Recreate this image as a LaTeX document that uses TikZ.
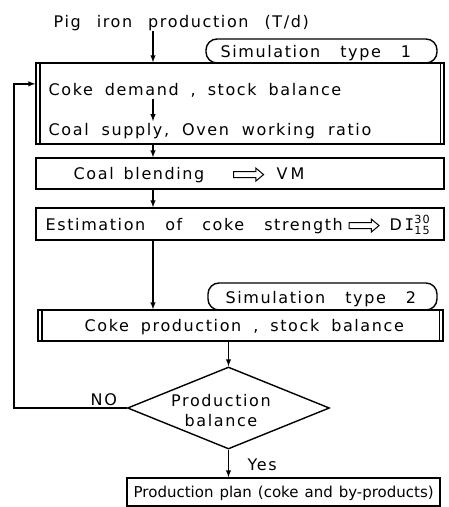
\documentclass[tikz,border=0pt]{standalone}
\usepackage{amsmath}
\usepackage{fontspec}
\setmainfont{DejaVu Sans}[LetterSpace=10]
\newfontfamily\monofont{DejaVu Sans Mono}
\usetikzlibrary{shapes, arrows, positioning, calc}
\tikzset{
  stepbox/.style={draw, rectangle, minimum width=408pt, inner sep=0pt},
  simbox/.style={draw, rectangle, rounded corners=11pt, inner sep=0pt},
  txt/.style={inner sep=1pt, font=\fontsize{16}{20}\selectfont,
    execute at begin node={\spaceskip=#1\relax}},
  txt/.default=10pt,
  hollow/.style={draw, single arrow, line width=1pt, minimum height=30pt, inner sep=2.5pt,
    single arrow head extend=3.5pt, single arrow tip angle=80},
}
\begin{document}
\begin{tikzpicture}[x=1pt, y=-1pt, line width=1.4pt, >=latex]
      \useasboundingbox (0,0) rectangle (448,507);

      \node[txt=16pt, anchor=base west] (pig) at (52,27) {Pig iron production (T/d)};
      \coordinate (feed) at (153,31);

      \node[stepbox, minimum height=81pt] (box1) at (240,103.5) {};
      \node[simbox, minimum width=231pt, minimum height=24pt] (sim1) at (321.5,51) {};
      \node[txt=20pt, anchor=base west] (simtxt1) at (219,57) {Simulation type 1};
      \node[txt=12pt, anchor=base west] (demand) at (47,95) {Coke demand , stock balance};
      \node[txt=13pt, anchor=base west] (supply) at (47,135) {Coal supply, Oven working ratio};

      \node[stepbox, minimum height=31pt] (blend) at (240,173.5) {};
      \node[txt, anchor=base west] (blendtxt) at (72,179) {Coal blending};
      \node[hollow, right=27pt of blendtxt] (blendarr) {};
      \node[txt, anchor=base west] (vm) at (275,179) {V\hspace{3pt}M};

      \node[stepbox, minimum height=32pt] (strength) at (240,224) {};
      \node[txt=20pt, anchor=base west] (strtxt) at (44,230) {Estimation of coke strength};
      \node[hollow, right=4pt of strtxt] (strarr) {};
      \node[txt, anchor=base west] (di) at (388,230) {D\,{\monofont I}$^{\text{30}}_{\text{15}}$};

      \node[stepbox, minimum width=405pt, minimum height=31pt] (coke) at (240.5,325.5) {};
      \node[simbox, minimum width=229pt, minimum height=27pt] (sim2) at (322.5,296.5) {};
      \node[txt=20pt, anchor=base west] (simtxt2) at (224,303) {Simulation type 2};
      \node[txt=12pt, anchor=base west] (coketxt) at (83,331) {Coke production , stock balance};

      \node[draw, diamond, minimum width=202pt, minimum height=82pt, inner sep=0pt] (bal) at (228.5,408) {};
      \node[txt, align=center] (baltxt) at (221,411) {Production\\balance};
      \node[txt, anchor=base west] (no) at (89,405) {NO};
      \node[txt, anchor=base west] (yes) at (246,470) {Yes};

      \node[draw, rectangle, minimum width=313pt, minimum height=28pt, inner sep=0pt] (plan) at (283.5,492) {};
      \node[txt=6pt, anchor=base west, font=\fontsize{15}{17}\selectfont\addfontfeatures{LetterSpace=0}] (plantxt) at (132,497) {Production plan (coke and by-products)};

      \draw ([xshift=4.5pt]box1.north west) -- ([xshift=4.5pt]box1.south west);
      \draw ([xshift=-4.5pt]box1.north east) -- ([xshift=-4.5pt]box1.south east);
      \draw ([xshift=4.5pt]coke.north west) -- ([xshift=4.5pt]coke.south west);
      \draw ([xshift=-4.5pt]coke.north east) -- ([xshift=-4.5pt]coke.south east);

      \draw [->] (feed) -- (feed |- box1.north);
      \draw [->] (feed |- demand.south) -- (feed |- supply.north);
      \draw [->] (feed |- box1.south) -- (feed |- blend.north);
      \draw [->] (feed |- blend.south) -- (feed |- strength.north);
      \draw [->] (feed |- strength.south) -- (feed |- coke.north);
      \draw [->] (coke.south -| bal.north) -- (bal.north);
      \draw [->] (bal.south) -- (bal.south |- plan.north);
      \draw [->] (bal.west) -- ++(-113,0) |- ([yshift=6pt]demand.west -| box1.west);
    \end{tikzpicture}
\end{document}
